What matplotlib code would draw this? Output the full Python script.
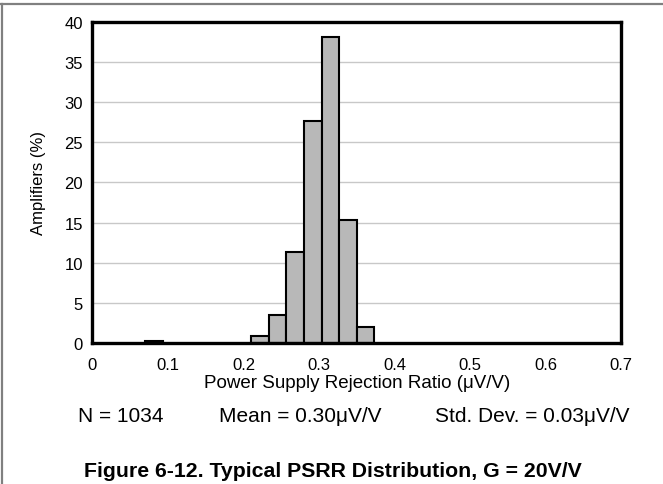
import numpy as np
import matplotlib
matplotlib.use('Agg')
import matplotlib.pyplot as plt
from matplotlib.lines import Line2D

plt.rcParams['font.family'] = ['Liberation Sans', 'DejaVu Sans']

# Dane: 30 przedzialow na 0 - 0.7 uV/V, procent wzmacniaczy w kazdym
x_min, x_max = 0.0, 0.7
n_bins = 30
amplifiers_pct = [0, 0, 0, 0.3, 0, 0, 0, 0, 0, 0.95,
                  3.5, 11.4, 27.6, 38.1, 15.4, 2.0, 0, 0, 0, 0,
                  0, 0, 0, 0, 0, 0, 0, 0, 0, 0]
x_ticks = [0, 0.1, 0.2, 0.3, 0.4, 0.5, 0.6, 0.7]
x_tick_labels = ['0', '0.1', '0.2', '0.3', '0.4', '0.5', '0.6', '0.7']
y_ticks = [0, 5, 10, 15, 20, 25, 30, 35, 40]
stats = ['N = 1034', 'Mean = 0.30\u03bcV/V', 'Std. Dev. = 0.03\u03bcV/V']
caption = 'Figure 6-12. Typical PSRR Distribution, G = 20V/V'

edges = np.linspace(x_min, x_max, n_bins + 1)
width = edges[1] - edges[0]
vals = np.array(amplifiers_pct)
mask = vals > 0

fig = plt.figure(figsize=(6.63, 4.85), dpi=100)
ax = fig.add_axes([0.1395, 0.2897, 0.7972, 0.6639])

ax.bar(edges[:-1][mask], vals[mask], width=width, align='edge',
       color='#b8b8b8', edgecolor='black', linewidth=1.5, zorder=3)

ax.set_xlim(x_min, x_max)
ax.set_ylim(0, 40)
ax.set_xticks(x_ticks)
ax.set_xticklabels(x_tick_labels)
ax.set_yticks(y_ticks)
ax.tick_params(length=0, labelsize=12)
ax.tick_params(axis='x', pad=10)
ax.tick_params(axis='y', pad=7)
ax.yaxis.grid(True, color='#c8c8c8', linewidth=1.0, zorder=0)
for s in ax.spines.values():
    s.set_linewidth(2.4)
    s.set_color('black')
    s.set_zorder(4)

ax.set_xlabel('Power Supply Rejection Ratio (\u03bcV/V)', fontsize=13.5, labelpad=1)
ax.set_ylabel('Amplifiers (%)', fontsize=12)
ax.yaxis.set_label_coords(-0.088, 0.5)

# statystyki i podpis
fig.text(121 / 663, 1 - 417 / 485, stats[0], fontsize=15, ha='center', va='center')
fig.text(300 / 663, 1 - 417 / 485, stats[1], fontsize=15, ha='center', va='center')
fig.text(532 / 663, 1 - 417 / 485, stats[2], fontsize=15, ha='center', va='center')
fig.text(333 / 663, 1 - 472 / 485, caption, fontsize=15.3, fontweight='bold',
         ha='center', va='center')

# ramka dokumentu (gora i lewo)
fig.add_artist(Line2D([0, 1], [1 - 5 / 485, 1 - 5 / 485], color='#808080', lw=1.6,
                      transform=fig.transFigure))
fig.add_artist(Line2D([1.5 / 663, 1.5 / 663], [0, 1 - 5 / 485], color='#808080', lw=1.6,
                      transform=fig.transFigure))

fig.savefig('out.png', dpi=100)
